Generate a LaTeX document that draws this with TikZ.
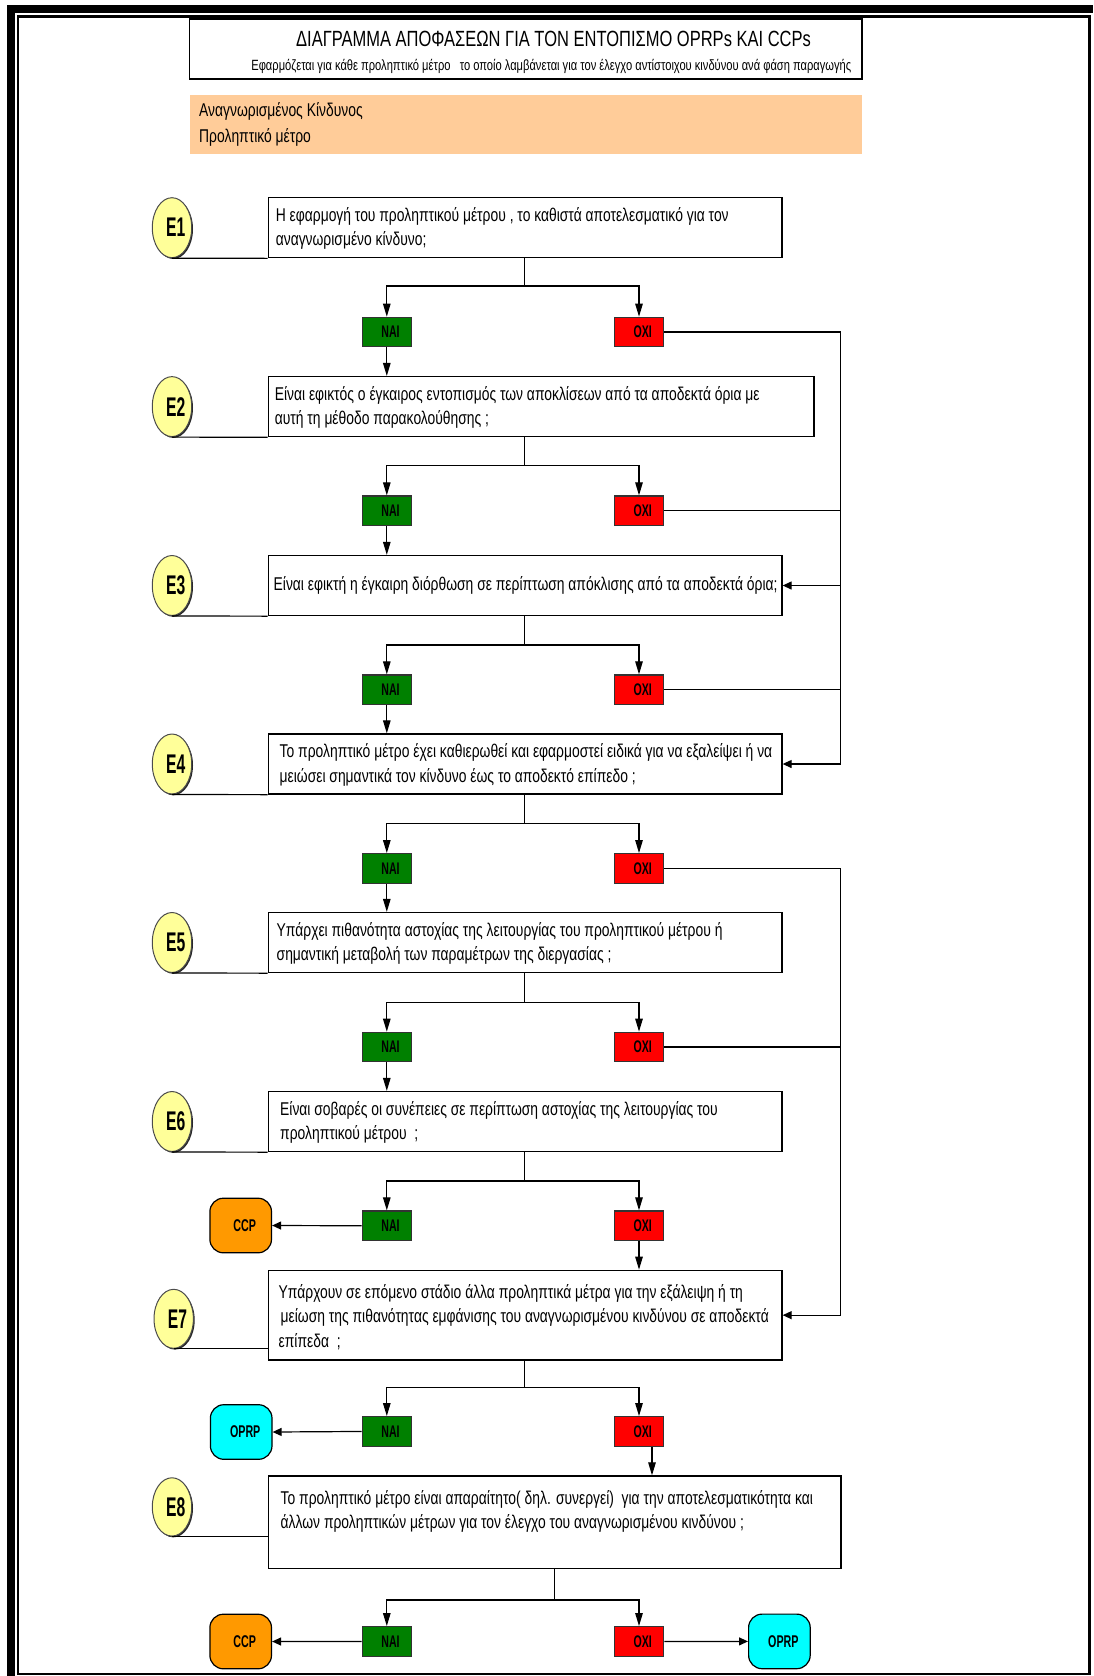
\documentclass[tikz,border=0pt]{standalone}
\usepackage{fontspec}
\setmainfont{Liberation Sans}[FakeStretch=0.75]
\newfontfamily\elabfont{Liberation Sans}[FakeStretch=0.58]
\newfontfamily\termfont{Liberation Sans}[FakeStretch=0.63]
\usetikzlibrary{shapes.geometric,arrows.meta,shadows}
\definecolor{naig}{RGB}{0,128,0}
\definecolor{oxir}{RGB}{255,0,0}
\definecolor{ccpo}{RGB}{255,153,0}
\definecolor{oprpc}{RGB}{0,255,255}
\definecolor{eyel}{RGB}{255,255,153}
\definecolor{hazo}{RGB}{255,204,153}
\tikzset{
  qbox/.style={draw=black, line width=1.3pt, fill=white, inner sep=0pt},
  qtext/.style={inner sep=0pt, align=left, anchor=west, font=\fontsize{18.5}{24.5}\selectfont},
  elab/.style={ellipse, draw=black!70, line width=1pt, fill=eyel, inner sep=0pt,
     drop shadow={shadow xshift=1.3pt, shadow yshift=-1.3pt, fill=black, opacity=0.85},
     minimum width=39.4pt, minimum height=60pt, execute at begin node=\hspace*{7.6pt},
     font=\elabfont\bfseries\fontsize{27}{27}\selectfont},
  yesbox/.style={draw=black!80, line width=1.3pt, fill=naig, inner sep=0pt,
     minimum width=49.3pt, minimum height=29.5pt, execute at begin node=\hspace*{7.5pt},
     font=\termfont\bfseries\fontsize{16.8}{16.8}\selectfont},
  nobox/.style={yesbox, fill=oxir},
  term/.style={draw=black, line width=1.2pt, rounded corners=13.5pt, inner sep=0pt,
     minimum width=61.6pt, minimum height=54.6pt, execute at begin node=\hspace*{8pt},
     font=\termfont\bfseries\fontsize{17}{17}\selectfont},
  conn/.style={line width=1.2pt, draw=black},
  varr/.style={conn, -{Triangle[length=13pt,width=7.5pt]}},
  harr/.style={conn, -{Triangle[length=9pt,width=8pt]}},
}
\begin{document}
\begin{tikzpicture}[x=1pt,y=-1pt]
\useasboundingbox (0,0) rectangle (1093,1676);
% frame
\fill[black] (7,5) rectangle (1093,13);
\fill[black] (7,5) rectangle (15,1676);
\draw[line width=2.5pt] (18,16.5) rectangle (1089.7,1674);

% title
\node[draw=black, line width=1.5pt, inner sep=0pt, minimum width=672.4pt, minimum height=60pt] (title) at (525.8,49) {};
\node[inner sep=0pt, font=\fontsize{22}{22}\selectfont] (title1) at (553.5,38.5) {ΔΙΑΓΡΑΜΜΑ ΑΠΟΦΑΣΕΩΝ ΓΙΑ ΤΟΝ ΕΝΤΟΠΙΣΜΟ OPRPs ΚΑΙ CCPs};
\node[inner sep=0pt, anchor=east, font=\fontsize{14.85}{14.85}\selectfont] (title2) at (851.5,66) {Εφαρμόζεται για κάθε προληπτικό μέτρο \ \ το οποίο λαμβάνεται για τον έλεγχο αντίστοιχου κινδύνου ανά φάση παραγωγής};

% hazard box
\node[fill=hazo, inner sep=0pt, minimum width=672.4pt, minimum height=59.3pt] (haz) at (525.8,124.65) {};
\node[inner sep=0pt, anchor=west, align=left, font=\fontsize{18.5}{25.8}\selectfont] (haztext) at (199,124.5) {Αναγνωρισμένος Κίνδυνος\\Προληπτικό μέτρο};

% question boxes
\node[qbox, minimum width=513.7pt, minimum height=60pt] (q1) at (525.15,227.7) {};
\node[qbox, minimum width=545.7pt, minimum height=60pt] (q2) at (541.15,406.6) {};
\node[qbox, minimum width=513.7pt, minimum height=60pt] (q3) at (525.15,585.5) {};
\node[qbox, minimum width=513.7pt, minimum height=60pt] (q4) at (525.15,764) {};
\node[qbox, minimum width=513.7pt, minimum height=60pt] (q5) at (525.15,942.5) {};
\node[qbox, minimum width=513.7pt, minimum height=60pt] (q6) at (525.15,1121.5) {};
\node[qbox, minimum width=513.7pt, minimum height=89.7pt] (q7) at (525.15,1315.15) {};
\node[qbox, minimum width=572.7pt, minimum height=92.3pt] (q8) at (554.65,1522.15) {};

\node[qtext] (t1) at (275.6,228.5) {Η εφαρμογή του προληπτικού μέτρου , το καθιστά αποτελεσματικό για τον\\αναγνωρισμένο κίνδυνο;};
\node[qtext] (t2) at (274.6,407.4) {Είναι εφικτός ο έγκαιρος εντοπισμός των αποκλίσεων από τα αποδεκτά όρια με\\αυτή τη μέθοδο παρακολούθησης ;};
\node[qtext] (t3) at (273.5,585.5) {Είναι εφικτή η έγκαιρη διόρθωση σε περίπτωση απόκλισης από τα αποδεκτά όρια;};
\node[qtext] (t4) at (279.5,764.8) {Το προληπτικό μέτρο έχει καθιερωθεί και εφαρμοστεί ειδικά για να εξαλείψει ή να\\μειώσει σημαντικά τον κίνδυνο έως το αποδεκτό επίπεδο ;};
\node[qtext] (t5) at (276.5,943.3) {Υπάρχει πιθανότητα αστοχίας της λειτουργίας του προληπτικού μέτρου ή\\σημαντική μεταβολή των παραμέτρων της διεργασίας ;};
\node[qtext] (t6) at (280,1122.3) {Είναι σοβαρές οι συνέπειες σε περίπτωση αστοχίας της λειτουργίας του\\προληπτικού μέτρου \ ;};
\node[qtext] (t7) at (278.5,1317) {Υπάρχουν σε επόμενο στάδιο άλλα προληπτικά μέτρα για την εξάλειψη ή τη\\\hspace{2pt}μείωση της πιθανότητας εμφάνισης του αναγνωρισμένου κινδύνου σε αποδεκτά\\επίπεδα \ ;};
\node[qtext] (t8) at (280.5,1511.3) {Το προληπτικό μέτρο είναι απαραίτητο( δηλ. συνεργεί) \ για την αποτελεσματικότητα και\\άλλων προληπτικών μέτρων για τον έλεγχο του αναγνωρισμένου κινδύνου ;};

% E labels
\node[elab] (e1) at (172,227.7) {Ε1};
\node[elab] (e2) at (172,406.6) {Ε2};
\node[elab] (e3) at (172,585.5) {Ε3};
\node[elab] (e4) at (172,764) {Ε4};
\node[elab] (e5) at (172,942.5) {Ε5};
\node[elab] (e6) at (172,1121.5) {Ε6};
\node[elab, minimum height=59pt] (e7) at (173.7,1318.8) {Ε7};
\node[elab, minimum height=58.3pt] (e8) at (172,1506.9) {Ε8};
\foreach \i in {1,...,6} {\draw[conn] (e\i.south) -- (q\i.south west);}
\draw[conn] (e7.south) -- (e7.south -| q7.west);
\draw[conn] (e8.south) -- (e8.south -| q8.west);

% yes / no boxes
\node[yesbox] (n1) at (386.8,332.05) {ΝΑΙ};
\node[nobox]  (o1) at (639,332.05) {ΟΧΙ};
\node[yesbox] (n2) at (386.8,510.75) {ΝΑΙ};
\node[nobox]  (o2) at (639,510.75) {ΟΧΙ};
\node[yesbox] (n3) at (386.8,689.75) {ΝΑΙ};
\node[nobox]  (o3) at (639,689.75) {ΟΧΙ};
\node[yesbox] (n4) at (386.8,868.45) {ΝΑΙ};
\node[nobox]  (o4) at (639,868.45) {ΟΧΙ};
\node[yesbox] (n5) at (386.8,1047.05) {ΝΑΙ};
\node[nobox]  (o5) at (639,1047.05) {ΟΧΙ};
\node[yesbox] (n6) at (386.8,1225.75) {ΝΑΙ};
\node[nobox]  (o6) at (639,1225.75) {ΟΧΙ};
\node[yesbox] (n7) at (386.8,1431.45) {ΝΑΙ};
\node[nobox]  (o7) at (639,1431.45) {ΟΧΙ};
\node[yesbox] (n8) at (386.8,1641.45) {ΝΑΙ};
\node[nobox]  (o8) at (639,1641.45) {ΟΧΙ};

% terminals
\node[term, fill=ccpo] (c6) at (240.7,1225.5) {CCP};
\node[term, fill=oprpc] (p7) at (241.2,1432) {OPRP};
\node[term, fill=ccpo] (c8) at (240.7,1641.5) {CCP};
\node[term, fill=oprpc] (p8) at (779.4,1641.4) {OPRP};

% branch points
\coordinate (b1) at (524.6,286);
\coordinate (b2) at (524.6,465.7);
\coordinate (b3) at (524.6,645);
\coordinate (b4) at (524.6,823.3);
\coordinate (b5) at (524.6,1002.3);
\coordinate (b6) at (524.6,1181);
\coordinate (b7) at (524.6,1387.7);
\coordinate (b8) at (554.65,1600);
\foreach \i in {1,...,8} {
  \draw[conn] (q\i.south -| b\i) -- (b\i);
  \draw[varr] (b\i) -| (n\i.north);
  \draw[varr] (b\i) -| (o\i.north);
}
% yes -> next question
\draw[varr] (n1.south) -- (q2.north -| n1);
\draw[varr] (n2.south) -- (q3.north -| n2);
\draw[varr] (n3.south) -- (q4.north -| n3);
\draw[varr] (n4.south) -- (q5.north -| n4);
\draw[varr] (n5.south) -- (q6.north -| n5);
\draw[harr] (n6.west) -- (c6.east);
\draw[varr] (o6.south) -- (q7.north -| o6);
\draw[harr] (n7.west) -- (p7.east);
\coordinate (o7d) at ([xshift=13pt]o7.south);
\draw[varr] (o7d) -- (q8.north -| o7d);
\draw[harr] (n8.west) -- (c8.east);
\draw[harr] (o8.east) -- (p8.west);

% right-hand return lines
\coordinate (ra) at (840.7,332.05);
\draw[conn] (o1.east) -- (ra) -- (ra |- q4.east);
\draw[harr] (ra |- q4.east) -- (q4.east);
\draw[harr] (ra |- q3.east) -- (q3.east);
\draw[conn] (o2.east) -- (o2.east -| ra);
\draw[conn] (o3.east) -- (o3.east -| ra);
\coordinate (rb) at (840.7,868.45);
\draw[conn] (o4.east) -- (rb) -- (rb |- q7.east);
\draw[harr] (rb |- q7.east) -- (q7.east);
\draw[conn] (o5.east) -- (o5.east -| rb);
\end{tikzpicture}
\end{document}
